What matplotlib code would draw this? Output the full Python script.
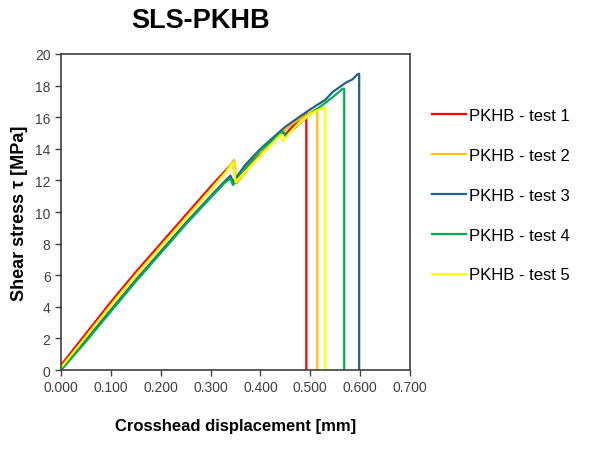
import matplotlib
matplotlib.use('Agg')
import matplotlib.pyplot as plt
import numpy as np

plt.rcParams['font.family'] = ['Liberation Sans', 'DejaVu Sans']

labels = ['PKHB - test 1', 'PKHB - test 2', 'PKHB - test 3', 'PKHB - test 4', 'PKHB - test 5']
colors = ['#FF0000', '#FFC000', '#255E91', '#00B050', '#FFFF00']

# displacement [mm] / shear stress [MPa] for each test
x1 = [0, 0.05, 0.10, 0.15, 0.20, 0.25, 0.30, 0.335, 0.345, 0.350, 0.38, 0.42, 0.445, 0.45, 0.47, 0.49, 0.492, 0.492]
y1 = [0.3, 2.3, 4.3, 6.2, 8.0, 9.8, 11.6, 12.8, 13.1, 12.0, 13.0, 14.3, 15.1, 14.9, 15.6, 16.2, 16.3, 0]

x2 = [0, 0.05, 0.10, 0.15, 0.20, 0.25, 0.30, 0.33, 0.347, 0.352, 0.38, 0.42, 0.46, 0.49, 0.51, 0.514, 0.514]
y2 = [0.1, 2.1, 4.1, 6.0, 7.8, 9.6, 11.4, 12.5, 13.3, 11.8, 12.9, 14.3, 15.5, 16.1, 16.5, 16.5, 0]

x3 = [0, 0.05, 0.10, 0.15, 0.20, 0.25, 0.30, 0.33, 0.34, 0.345, 0.37, 0.40, 0.45, 0.50, 0.53, 0.545, 0.572, 0.585, 0.594, 0.598, 0.598]
y3 = [0, 1.9, 3.8, 5.7, 7.5, 9.3, 11.0, 12.0, 12.3, 11.9, 13.0, 14.0, 15.4, 16.5, 17.1, 17.6, 18.2, 18.4, 18.7, 18.75, 0]

x4 = [0, 0.05, 0.10, 0.15, 0.20, 0.25, 0.30, 0.33, 0.34, 0.345, 0.37, 0.40, 0.445, 0.45, 0.50, 0.53, 0.55, 0.565, 0.568, 0.568]
y4 = [0, 1.8, 3.7, 5.6, 7.4, 9.2, 10.9, 11.9, 12.1, 11.7, 12.8, 13.9, 15.1, 14.8, 16.2, 16.9, 17.4, 17.8, 17.8, 0]

x5 = [0, 0.05, 0.10, 0.15, 0.20, 0.25, 0.30, 0.33, 0.345, 0.350, 0.38, 0.42, 0.44, 0.445, 0.47, 0.50, 0.525, 0.53, 0.53]
y5 = [0.15, 2.1, 4.1, 6.0, 7.8, 9.6, 11.4, 12.5, 13.1, 11.9, 12.9, 14.2, 14.9, 14.5, 15.4, 16.2, 16.6, 16.6, 0]

xs = [x1, x2, x3, x4, x5]
ys = [y1, y2, y3, y4, y5]

fig = plt.figure(figsize=(6.07, 4.77), dpi=100)
ax = fig.add_axes([0.1005, 0.2222, 0.575, 0.6625])

for x, y, c, lab in zip(xs, ys, colors, labels):
    ax.plot(x, y, color=c, lw=1.6, label=lab)

ax.set_xlim(0, 0.7)
ax.set_ylim(0, 20)
ax.set_xticks(np.arange(0, 0.71, 0.1))
ax.set_xticklabels(['%.3f' % v for v in np.arange(0, 0.71, 0.1)])
ax.set_yticks(range(0, 21, 2))
ax.tick_params(direction='out', length=4, width=1, color='#404040', labelcolor='#404040', labelsize=10)
for s in ax.spines.values():
    s.set_color('#404040')
    s.set_linewidth(1.2)

ax.set_xlabel('Crosshead displacement [mm]', fontsize=12, fontweight='bold')
ax.set_ylabel('Shear stress τ [MPa]', fontsize=13, fontweight='bold')
ax.xaxis.set_label_coords(0.5, -0.152)
ax.yaxis.set_label_coords(-0.0945, 0.5)

fig.text(0.33, 0.955, 'SLS-PKHB', fontsize=19.5, fontweight='bold', ha='center', va='center')

ax.legend(loc='upper left', bbox_to_anchor=(1.045, 0.85), frameon=False, fontsize=12,
          handlelength=2.0, handletextpad=0.2, labelspacing=1.49, borderaxespad=0)

plt.savefig('out.png', dpi=100)
